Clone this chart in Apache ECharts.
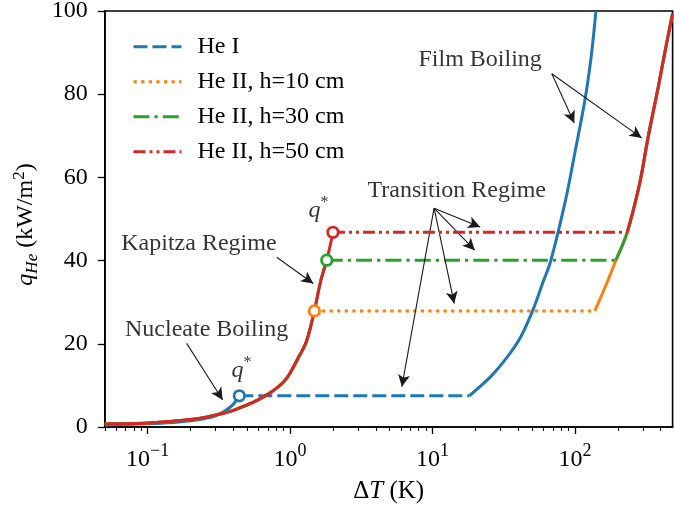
<!DOCTYPE html>
<html>
<head>
<meta charset="utf-8">
<script src="https://cdn.jsdelivr.net/npm/echarts@6/dist/echarts.min.js"></script>
<style>html,body{margin:0;padding:0;background:#fff;}#c{width:674px;height:510px;}</style>
</head>
<body>
<div id="c"></div>
<script>
// ---- data (ΔT in K, q in kW/m^2) ----
const heI_nucleate = [[0.05,0.5],[0.1,0.8],[0.15,1.1],[0.2,1.5],[0.25,2.0],[0.3,2.7],[0.35,3.9],[0.4,5.5],[0.44,7.5]];
const heI_qstar = 7.5;
const heI_dTstar = 0.44;
const heI_dTfilm = 18.1;
const heI_film = [[18.1,7.5],[25.6,12.1],[33.6,16.9],[41.7,21.7],[50.4,27.9],[59.2,34.5],[67.7,40],[86,54.6],[100,66],[117.5,78.6],[130,89],[140.4,100]];

const heII_names = ['He II, h=10 cm','He II, h=30 cm','He II, h=50 cm'];
const heII_kapitza = [[0.05,0.7],[0.07,0.8],[0.1,0.95],[0.15,1.4],[0.2,1.8],[0.25,2.3],[0.3,2.9],[0.35,3.4],[0.4,4.0],[0.45,4.7],[0.5,5.3],[0.6,6.6],[0.7,7.9],[0.8,9.3],[0.9,10.8],[1.0,13.0],[1.14,16.6],[1.3,20.5],[1.48,27.9],[1.64,35.1],[1.81,40.1],[2.0,46.8]];
const heII_qstar = [27.9, 40.1, 46.8];
const heII_dTstar = [1.48, 1.81, 2.0];
const heII_dTfilm = [138, 194, 233];
const heII_film = [[138,27.9],[167,34.5],[194,40.1],[233,46.8],[285,58.6],[327,69.8],[385,81.8],[440,92.2],[485,99.4]];

const xMajorTicks = [0.1, 1, 10, 100];
const xMinorTicks = [0.05,0.06,0.07,0.08,0.09,0.2,0.3,0.4,0.5,0.6,0.7,0.8,0.9,2,3,4,5,6,7,8,9,20,30,40,50,60,70,80,90,200,300,400];
const xRange = [0.05, 485];
const yTicks = [0, 20, 40, 60, 80, 100];

const annotationTexts = [
  {name:'Film Boiling', value:[21.6, 88.2]},
  {name:'Transition Regime', value:[14.8, 56.7]},
  {name:'Kapitza Regime', value:[0.229, 44]},
  {name:'Nucleate Boiling', value:[0.2596, 23.3]},
  {name:'q*', value:[0.455, 13.9]},
  {name:'q*', value:[1.585, 52.5]}
];
const annotationArrows = [
  [[68.8,84.9],[98.9,73.1]],
  [[68.8,84.9],[294,69.5]],
  [[10.26,52.6],[21.6,48.1]],
  [[10.26,52.6],[19.8,42.5]],
  [[10.26,52.6],[14.2,29.7]],
  [[10.26,52.6],[6.09,9.7]],
  [[0.805,40.8],[1.455,34.5]],
  [[0.1878,20.1],[0.3362,6.5]]
];

// ---- styles ----
const FONT = 'Liberation Serif';
const colors = ['#1f77b4','#ff7f0e','#2ca02c','#d62728'];
const dashes = [[14,5],[3.3,4.3],[16,5,3.3,5],[12,4,3,4,3,4]];
const LW = 3;

const series = [];
function solid(name, data, color, z) {
  series.push({name, type:'line', data, showSymbol:false, symbol:'none', smooth:0.35,
    lineStyle:{color, width:LW, type:'solid', cap:'butt'}, z, silent:true, clip:true});
}
function plateau(name, data, color, dash, z) {
  series.push({name, type:'line', data, showSymbol:false, symbol:'none',
    lineStyle:{color, width:LW, type:dash, cap:'butt'}, itemStyle:{color}, z, silent:true, clip:true});
}
// He I
solid('He I nb', heI_nucleate, colors[0], 2);
plateau('He I', [[heI_dTstar, heI_qstar],[heI_dTfilm, heI_qstar]], colors[0], dashes[0], 2);
solid('He I fb', heI_film, colors[0], 2);
// He II
heII_names.forEach((nm, i) => {
  const c = colors[i+1], z = 3 + i;
  solid(nm + ' k', heII_kapitza.filter(p => p[0] <= heII_dTstar[i]), c, z);
  plateau(nm, [[heII_dTstar[i], heII_qstar[i]],[heII_dTfilm[i], heII_qstar[i]]], c, dashes[i+1], z);
  solid(nm + ' fb', heII_film.filter(p => p[0] >= heII_dTfilm[i]), c, z);
});
// q* circles
const circleData = [[heI_dTstar, heI_qstar]].concat(heII_dTstar.map((d, i) => [d, heII_qstar[i]]));
series.push({name:'qstar', type:'scatter', z:10, silent:true, symbol:'circle', symbolSize:10.5,
  data: circleData.map((p, i) => ({value:p, itemStyle:{color:'#fff', borderColor:colors[i], borderWidth:2.8, opacity:1}}))});
// annotation texts
series.push({name:'annot', type:'scatter', z:12, silent:true, symbolSize:0,
  data: annotationTexts,
  label:{show:true, position:'inside', color:'#000', fontFamily:FONT, fontSize:24, textBorderWidth:0, textBorderColor:'transparent',
    formatter: p => p.name === 'q*' ? '{i|q}{s|*}' : p.name,
    rich:{i:{fontFamily:FONT, fontStyle:'italic', fontSize:24, lineHeight:28, verticalAlign:'bottom', color:'#000', textBorderWidth:0},
          s:{fontFamily:FONT, fontSize:16, lineHeight:12, verticalAlign:'top', color:'#000', textBorderWidth:0}}}
});
// annotation arrows
series.push({name:'arrows', type:'line', z:12, silent:true, data:[], showSymbol:false,
  lineStyle:{color:'#1a1a1a'}, itemStyle:{color:'#1a1a1a'},
  markLine:{silent:true, symbol:['none','arrow'], symbolSize:[9,12], label:{show:false},
    lineStyle:{color:'#1a1a1a', width:1.1, type:'solid'},
    data: annotationArrows.map(a => [{coord:a[0]},{coord:a[1]}])}
});

const axisFont = {fontFamily:FONT, color:'#000'};
const option = {
  animation:false,
  backgroundColor:'#fff',
  grid:{left:104.8, right:1.4, top:11, bottom:83, show:true, borderColor:'#000', borderWidth:1.6, containLabel:false, outerBoundsMode:'none'},
  legend:{
    data: ['He I'].concat(heII_names), orient:'vertical', left:127, top:28.7,
    itemWidth:48, itemHeight:14, itemGap:9, selectedMode:false,
    itemStyle:{opacity:0, borderWidth:0},
    lineStyle:{width:3},
    textStyle:{fontFamily:FONT, fontSize:24, lineHeight:26, color:'#000', padding:[0,0,0,11]}
  },
  xAxis:[{
    type:'log', logBase:10, min:xRange[0], max:xRange[1], position:'bottom',
    name:'{d|Δ}{i|T}{d| (K)}', nameLocation:'middle', nameGap:52,
    nameTextStyle:{rich:{d:{fontFamily:FONT, fontSize:25, color:'#000'}, i:{fontFamily:FONT, fontSize:25, fontStyle:'italic', color:'#000'}}},
    axisLine:{show:true, onZero:false, lineStyle:{color:'#000', width:1.6}},
    axisTick:{show:true, customValues:xMajorTicks, length:7, lineStyle:{color:'#000', width:1.3}},
    axisLabel:{show:true, customValues:xMajorTicks, margin:15,
      formatter: v => { const e = Math.round(Math.log10(v)); return '{b|10}{s|' + (e < 0 ? '\u2212' + (-e) : e) + '}'; },
      rich:{b:{fontFamily:FONT, fontSize:24, lineHeight:30, verticalAlign:'bottom', color:'#000'},
            s:{fontFamily:FONT, fontSize:18, lineHeight:14, verticalAlign:'top', color:'#000'}}},
    splitLine:{show:false}, minorTick:{show:false}
  },{
    type:'log', logBase:10, min:xRange[0], max:xRange[1], position:'bottom', offset:0,
    axisLine:{show:false}, axisLabel:{show:false}, splitLine:{show:false},
    axisTick:{show:true, customValues:xMinorTicks, length:4, lineStyle:{color:'#000', width:1.1}}
  }],
  yAxis:{
    type:'value', min:yTicks[0], max:yTicks[yTicks.length-1], interval:yTicks[1]-yTicks[0],
    name:'{i|q}{sb|He}{n| (kW/m}{sp|2}{e|)}', nameLocation:'middle', nameRotate:90, nameGap:64,
    nameTextStyle:{rich:{
      i:{fontFamily:FONT, fontSize:24, fontStyle:'italic', lineHeight:30, color:'#000'},
      sb:{fontFamily:FONT, fontSize:17, fontStyle:'italic', lineHeight:17, verticalAlign:'bottom', color:'#000'},
      n:{fontFamily:FONT, fontSize:24, lineHeight:30, color:'#000'},
      e:{fontFamily:FONT, fontSize:24, lineHeight:30, color:'#000', padding:[0,11,0,0]},
      sp:{fontFamily:FONT, fontSize:17, lineHeight:14, verticalAlign:'top', color:'#000'}}},
    axisLine:{show:true, lineStyle:{color:'#000', width:1.6}},
    axisTick:{show:true, length:7, lineStyle:{color:'#000', width:1.3}},
    axisLabel:Object.assign({fontSize:24, margin:17}, axisFont),
    splitLine:{show:false}
  },
  series
};
const chart = echarts.init(document.getElementById('c'), null, {renderer:'canvas'});
chart.setOption(option);
</script>
</body>
</html>
